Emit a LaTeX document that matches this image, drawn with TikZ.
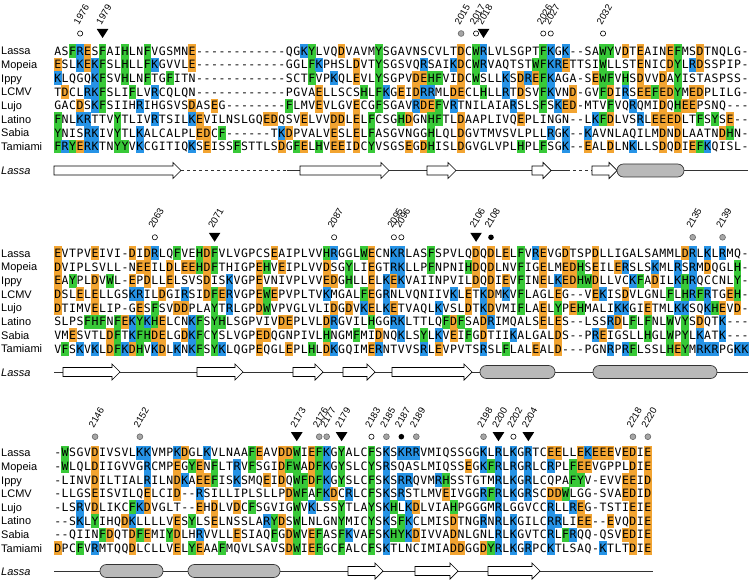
\documentclass[tikz,border=0pt]{standalone}
\usepackage{fontspec}
\setmainfont{Liberation Sans}
\newfontfamily\seqfont{DejaVu Sans Mono}
\usetikzlibrary{positioning}
\definecolor{resorange}{HTML}{F2A431}
\definecolor{resblue}{HTML}{2693E6}
\definecolor{resgreen}{HTML}{38C938}
\definecolor{helixgrey}{HTML}{B9B9B9}
\definecolor{markgrey}{HTML}{A6A6A6}

\newcommand\colw{7.47}
\newcommand\seqx{54}
\newcommand\rowh{13.65}

% one alignment row: residues are read one by one, lower case = left uncoloured
\makeatletter
\newcount\rescol
\def\rc@D{{resorange}{D}}\def\rc@E{{resorange}{E}}
\def\rc@K{{resblue}{K}}\def\rc@R{{resblue}{R}}
\def\rc@F{{resgreen}{F}}\def\rc@W{{resgreen}{W}}\def\rc@Y{{resgreen}{Y}}\def\rc@H{{resgreen}{H}}
\def\rc@d{{none}{D}}\def\rc@e{{none}{E}}\def\rc@k{{none}{K}}\def\rc@r{{none}{R}}
\def\rc@f{{none}{F}}\def\rc@w{{none}{W}}\def\rc@y{{none}{Y}}\def\rc@h{{none}{H}}
\newcommand\seqrow[2]{\rescol=0 \def\seq@y{#1}\seq@next#2\relax}
\def\seq@next#1{\ifx\relax#1\else\seq@cell{#1}\advance\rescol by 1 \expandafter\seq@next\fi}
\def\seq@cell#1{\ifcsname rc@#1\endcsname\edef\seq@spec{\csname rc@#1\endcsname}\else\def\seq@spec{{none}{#1}}\fi
  \expandafter\seq@draw\seq@spec}
\def\seq@draw#1#2{\node[rescell,fill=#1] at ({\seqx+\colw*(\the\rescol+0.5)},\seq@y) {#2};}
\makeatother

% secondary structure elements
\newcommand\strand[3]{\draw[strandbox] (#1,#3-4.5) -- (#2-8,#3-4.5) -- (#2-8,#3-8) -- (#2,#3) -- (#2-8,#3+8) -- (#2-8,#3+4.5) -- (#1,#3+4.5) -- cycle;}
\newcommand\helix[3]{\draw[helixbox] (#1,#3-6.5) rectangle (#2,#3+6.5);}

\begin{document}
\begin{tikzpicture}[x=1pt,y=-1pt,
  rescell/.style={inner sep=0pt,outer sep=0pt,minimum width=7.72pt,minimum height=13.9pt,
    text height=8.4pt,text depth=0pt,font=\seqfont\fontsize{11.5}{12}\selectfont},
  seqname/.style={anchor=base west,inner sep=0pt,font=\fontsize{11}{12}\selectfont},
  ssname/.style={anchor=base west,inner sep=0pt,font=\fontsize{11}{12}\selectfont\itshape},
  numlabel/.style={anchor=south west,rotate=60,inner sep=0pt,font=\fontsize{9.5}{10}\selectfont},
  ssline/.style={line width=0.9pt,black!80},
  strandbox/.style={draw=black,fill=white,line width=0.7pt,line join=miter},
  helixbox/.style={draw=black!80,fill=helixgrey,line width=0.7pt,rounded corners=6.4pt},
  mkopen/.pic={\draw[line width=0.6pt,fill=white] (0,0) circle (2.6);},
  mkgrey/.pic={\draw[line width=0.6pt,draw=black!60,fill=markgrey] (0,0) circle (2.9);},
  mkdot/.pic={\fill[black] (0,0) circle (2.8);},
  mktri/.pic={\fill[black] (-5.8,-4.5) -- (5.8,-4.5) -- (0,4.5) -- cycle;}]
\useasboundingbox (0,0) rectangle (750,583);

% block 1
\foreach \nm [count=\i from 0] in {Lassa,Mopeia,Ippy,LCMV,Lujo,Latino,Sabia,Tamiami}
  \node[seqname] (a\i) at (1,{51+\rowh*\i+4}) {\nm};
\seqrow{51.00}{ASFRESFAIHLNFVGSMNE------------QGKYLVQDVAVMYSGAVNSCVLTDCWRLVLSGPTFKGK--SAWYVDTEAINEFMSDTNQLG-}
\seqrow{64.65}{ESLKEKFSLHLLFKGVVLE------------GGLFKPhSLDVTYSGSVQRSAIKDCWRVAQTSTWFKRETTSIWLLSTENICDYLRDSSPIP-}
\seqrow{78.30}{KLQGQKFSVHLNFTGFITN------------SCTFVPKQLEVLYSGPVDEHFVIDCWSLLKSDREFKAGA-SEWFVHSDVVDAYISTASPSS-}
\seqrow{91.95}{TDCLRKFSLIFLVRCQLQN------------PGVAELLSCSHLFKGEIDRRMLDECLHLLRTDSVFKVND-GVFDIRSEEFEDYMEDPLILG-}
\seqrow{105.60}{GACDSKFSIIhRIhGSVSDASEG--------FLMVEVLGVECGFSGAVRDEFVRTNILAIARSLSFSKED-MTVFVQRQMIDQHEEPSNQ---}
\seqrow{119.25}{FNLKRTTVYTLIVRTSILKEVILNSLGQEDQSVELVVDDLELFCSGHDGNHFTLDAAPLIVQEPLINGN--LKFDLVSRLEEEDLTFSYSE--}
\seqrow{132.90}{YNISRKIVYTLKALCALPLEDCF------TKDPVALVESLELFASGVNGGHLQLDGVTMVSVLPLLRGK--KAVNLAQILMDNDLAATNDHN-}
\seqrow{146.55}{FRYERKTNYYVKCGITIQKSEISSFSTTLSDGFELHVEEIDCYVSGSEGDHISLDGVGLVPLHPLFSGK--EALDLNKLLSDQDIEFKQISL-}
\foreach \c/\n/\t in {3/1976/mkopen,6/1979/mktri,54/2015/mkgrey,56/2017/mkopen,57/2018/mktri,
    65/2026/mkopen,66/2027/mkopen,73/2032/mkopen}{
  \pic at ({\seqx+\colw*(\c+0.5)},33.5) {\t};
  \node[numlabel] at ({\seqx+\colw*(\c+0.5)-1},25.5) {\n};
}
% block 1 structure
\node[ssname] (s1) at (1,174.5) {Lassa};
\draw[ssline,dashed] (181,170.5) -- (287,170.5);
\draw[ssline] (287,170.5) -- (300,170.5) (389,170.5) -- (532,170.5) (551,170.5) -- (567,170.5);
\draw[ssline,dashed] (567,170.5) -- (592,170.5);
\draw[ssline] (684,170.5) -- (748,170.5);
\strand{54}{181}{170.5}
\strand{300}{389}{170.5}
\strand{427}{456}{170.5}
\strand{532}{551}{170.5}
\strand{592}{617}{170.5}
\helix{617}{684}{170.5}

% block 2
\foreach \nm [count=\i from 0] in {Lassa,Mopeia,Ippy,LCMV,Lujo,Latino,Sabia,Tamiami}
  \node[seqname] (b\i) at (1,{253.3+\rowh*\i+4}) {\nm};
\seqrow{253.30}{EVTPVEIVI-DIDRLQFVeHDFVLVGPCSEAIPLVVHRGGLWECNKRLASFSPVLQDQDLELFVREVGDTSPDLLIGALSAMMLDRLKLRMQ-}
\seqrow{266.95}{DVIPLSVLL-NEEILDLEEHDFThIGPEHVEIPLVVDSGYLIEGTRKLLPFNPNIHDQDLNVFIGELMEDHSEILERSLSKMLRSRMDQGLH-}
\seqrow{280.60}{EAYPLDVWL-EPDLLELSVSDISKVGPEVNIVPLVVEDGHLLELKEKVAIINPVILDQDIEVFINELKEDHWDLLVCKFADILKHRQCCNLY-}
\seqrow{294.25}{DSLELELLGSKRILDGIRSIDFERVGPEWEPVPLTVKMGALFEGRNLVQNIIVKLETKDMKVFLAGLEG--VEKISDVLGNLFLHRFRTGEH-}
\seqrow{307.90}{DTIMVELIP-GESFSVDDPLAYTRLGPDWVPVGLVLIDGDVKELKETVAQLKVSLDTKDVMIFLAELYPEHMALIKKGIETMLKKSQKHEVD-}
\seqrow{321.55}{SLPSFHFNFEKYKHELCNKFSYHLSGPVIVDEPLVLDRGVILHGGRKLTTLQFDFSADRIMQALSELES--LSSRDLFLFNLWVYSDQTK---}
\seqrow{335.20}{VMESVTLDFTKFHDELGDKFCYSLVGPEDQGNPIVLHNGMFMIDNQKLSYLKVEIFGDTIIKALGALDS--PREIGSLLHGLWPYLKATK---}
\seqrow{348.85}{VFSKVKLDFKDHVKDLKNKFSYKLQGPEQGLEPLHLDKGQIMERNTVVSRLEVPVTSRSLFLALEALD---PGNRPRFLSSLHEYMRKRPGKK}
\foreach \c/\n/\t in {13/2063/mkopen,21/2071/mktri,37/2087/mkopen,45/2095/mkopen,46/2096/mkopen,
    56/2106/mktri,58/2108/mkdot,85/2135/mkgrey,89/2139/mkgrey}{
  \pic at ({\seqx+\colw*(\c+0.5)},237.3) {\t};
  \node[numlabel] at ({\seqx+\colw*(\c+0.5)-1},229.3) {\n};
}
% block 2 structure
\node[ssname] (s2) at (1,376) {Lassa};
\draw[ssline] (54,372) -- (748,372);
\strand{63}{120}{372}
\strand{197}{243}{372}
\strand{293}{323}{372}
\strand{343}{375}{372}
\strand{392}{472}{372}
\helix{480}{555}{372}
\helix{593}{717}{372}

% block 3
\foreach \nm [count=\i from 0] in {Lassa,Mopeia,Ippy,LCMV,Lujo,Latino,Sabia,Tamiami}
  \node[seqname] (c\i) at (1,{452.7+\rowh*\i+4}) {\nm};
\seqrow{452.70}{-WSGVDIVSVLKKVMPKDGLKVLNAAFEAVDDWIEFKGYALCFSKSKRRVMIQSSGGKLRLKGRTCEELLEKEEEVEDIE}
\seqrow{466.35}{-WLQLDIIGVVGRCMPEGYENFLTRVFSGIDFWADFKGYSLCYSRSQASLMIQSSEGKFRLRGRLCRPLFEEVGPPLDIE}
\seqrow{480.00}{-LINVDILTIALRILNDKAEEFISKSMQEIDQWFDFKGYSLCFSKSRRQVMRHSSTGTMRLKGRLCQPAFYV-eVVEEID}
\seqrow{493.65}{-LLGSEISVILQELCID--RSILLIPLSLLPDWFAFKDCRLCFSKSRSTLMVEIVGGRFRLKGRSCDDWLGG-SVAEDID}
\seqrow{507.30}{-LSRVDLIkCFKDVGLT--EhDLVDCFSGVIGWVKLSSYTLAYSKHLKDLVIAHPGGGMRLGGVCCRLLREG-TSTIEIE}
\seqrow{520.95}{--SKLYIhQDKLLLLVESYLSELNSSLARYDSWLNLGNYMICYSKSFKCLMISDTNGRNRLKGILCRRLIEE--EVQDIE}
\seqrow{534.60}{--QIINFDQTDFEMIYDLhRVVLLESIAQFGDWVEFASFKVAFSKHYKDIVVADNLGNLRLKGVTCRLFRQQ-QSVEDIE}
\seqrow{548.25}{DPCFVRMTQQDLCLLVELYEAAFMQVLSAVSDWIEFGCFALCFSKTLNCIMIADDGGDYRLKGRPCKTLSAQ-KTLTDIE}
\foreach \c/\n/\t in {5/2146/mkgrey,11/2152/mkgrey,32/2173/mktri,35/2176/mkgrey,36/2177/mkgrey,
    38/2179/mktri,42/2183/mkopen,44/2185/mkgrey,46/2187/mkdot,48/2189/mkgrey,57/2198/mkgrey,
    59/2200/mktri,61/2202/mkopen,63/2204/mktri,77/2218/mkgrey,79/2220/mkgrey}{
  \pic at ({\seqx+\colw*(\c+0.5)},436.7) {\t};
  \node[numlabel] at ({\seqx+\colw*(\c+0.5)-1},428.7) {\n};
}
% block 3 structure
\node[ssname] (s3) at (1,575) {Lassa};
\draw[ssline] (54,571) -- (653,571);
\helix{100}{163}{571}
\helix{188}{280}{571}
\strand{348}{383}{571}
\strand{415}{458}{571}
\strand{488}{540}{571}
\end{tikzpicture}
\end{document}
